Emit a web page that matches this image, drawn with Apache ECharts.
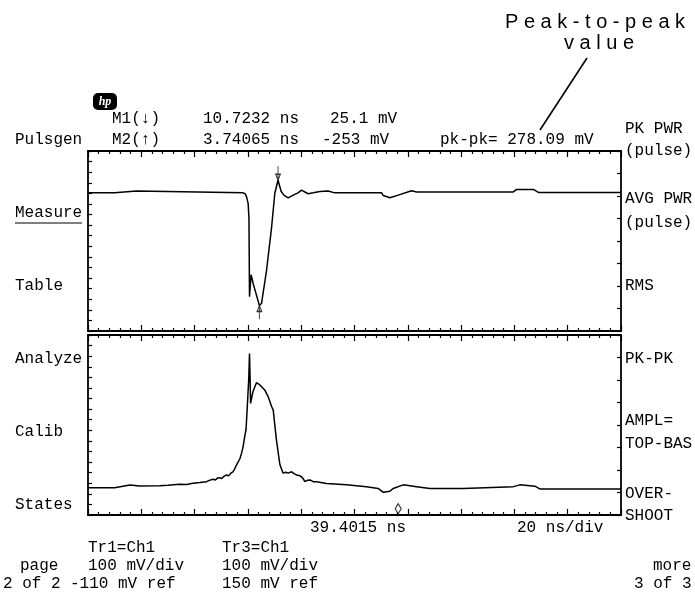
<!DOCTYPE html>
<html><head><meta charset="utf-8">
<script src="https://cdn.jsdelivr.net/npm/echarts@6/dist/echarts.min.js"></script>
<style>html,body{margin:0;padding:0;background:#fff}#c{width:695px;height:605px}</style>
</head><body><div id="c"></div>
<script>
// Time measured from the left edge of the screen (ns); 20 ns/div, 10 divisions
const topTime = [0,10.0,10.1,18.2,18.3,58.2,59.0,59.5,60.1,60.4,60.6,60.9,61.2,61.5,62.0,64.3,65.1,67.0,68.9,70.1,71.3,72.5,73.5,75.1,77.0,78.8,80.1,80.5,82.6,84.5,87.0,90.1,92.6,110.2,110.8,113.3,116.4,117.0,121.4,123.3,159.6,160.8,167.1,169.0,200];
const topMv   = [-3,-3,1,1,-3,-3,-5,-12,-27,-60,-234,-234,-185,-188,-205,-253,-249,-175,-79,-4,25.1,0,-8,-14,-8,-3,3,-1,-5,-3,0,1,-3,-3,-9,-14,-8,-5,1.5,-1,-1,4.7,4.7,-2,-2];
const botTime = [0,10.0,10.7,15.7,19.4,26.9,30,34.4,37,39.4,42,44.5,45.5,46.9,47.8,48.6,49.4,50.2,51,52.0,52.8,53.6,54.4,55.0,55.7,56.3,57.0,57.6,58.2,58.8,59.3,59.5,59.9,60.3,60.6,60.8,61.0,61.5,61.9,62.6,63.2,64.5,65.1,66.3,67.6,68.9,69.5,70.7,72.0,73.2,74.2,75.1,76.4,77.3,78.2,79.2,80.1,80.8,81.4,82.3,83.3,84.5,85.8,89.5,97.0,104.5,108.9,110.8,113.3,114.5,118.3,123.3,128.3,140.8,159.6,162.1,167.7,169.5,200];
const botMv   = [10.7,10.7,14.4,16.7,14.4,15.1,16,18.2,18,20.4,22,24,27,29.3,28,32,33,31,36,39,37,43,46,52,61,57,75,87,102,124,140,161,162,250,309,260,198,199,224,228,244,239,235,228,213,191,183,117,62,43,45,43,46,42,39,38,35,30,24,27,28,24,24,20,17,13,9,0.4,3,9,17,13,9,9,13,17,14,8,8];
// Markers: M1 (top of pulse), M2 (bottom of pulse)
const m1Time = 71.3, m1Mv = 25.1;
const m2Time = 64.3, m2Mv = -253;
// trigger diamond on lower trace grid
const trigTime = 116.4, trigMv = -36;

const chart = echarts.init(document.getElementById('c'), null, {renderer:'canvas'});
const K = '#000';
const FONT = '16px "Liberation Mono", "DejaVu Sans Mono", monospace';

function xAx(g, pos){
  return {gridIndex:g, type:'value', min:0, max:200, interval:20, position:pos,
    axisLine:{show:true, onZero:false, lineStyle:{color:K, width:1.8}},
    axisTick:{show:true, inside:true, length:6, lineStyle:{color:K, width:1.2}},
    minorTick:{show:true, splitNumber:5, length:3, lineStyle:{color:K, width:1.2}},
    axisLabel:{show:false}, splitLine:{show:false}, minorSplitLine:{show:false}};
}
function yAx(g, pos, min, max, interval){
  return {gridIndex:g, type:'value', min:min, max:max, interval:interval, position:pos,
    axisLine:{show:true, onZero:false, lineStyle:{color:K, width:1.8}},
    axisTick:{show:true, inside:true, length:4, lineStyle:{color:K, width:1.2}},
    axisLabel:{show:false}, splitLine:{show:false}};
}
function T(text, x, y, extra){
  return Object.assign({type:'text', x:x, y:y, silent:true,
    style:{text:text, font:FONT, fill:K, align:'left', verticalAlign:'middle'}}, extra||{});
}
function zip(a,b){ return a.map((v,i)=>[v,b[i]]); }

const graphics = [
  {type:'rect', shape:{x:93, y:93, width:24, height:17, r:5}, style:{fill:K}},
  {type:'text', x:105, y:101.5, style:{text:'hp', font:'italic bold 12px "Liberation Serif", serif', fill:'#fff', align:'center', verticalAlign:'middle'}},
  T('M1(\u2193)',112,119), T('10.7232 ns',203,119), T('25.1 mV',330,119),
  T('Pulsgen',15,140), T('M2(\u2191)',112,140), T('3.74065 ns',203,140), T('-253 mV',322,140),
  T('pk-pk= 278.09 mV',440,140),
  T('PK PWR',625,129), T('(pulse)',625,151),
  T('Measure',15,213), {type:'line', shape:{x1:15,y1:223,x2:82,y2:223}, style:{stroke:K, lineWidth:1.2}},
  T('AVG PWR',625,199), T('(pulse)',625,223),
  T('Table',15,286), T('RMS',625,286),
  T('Analyze',15,359), T('PK-PK',625,359),
  T('Calib',15,432), T('AMPL=',625,421), T('TOP-BAS',625,444),
  T('States',15,505), T('OVER-',625,494), T('SHOOT',625,516),
  T('39.4015 ns',310,528), T('20 ns/div',517,528),
  T('Tr1=Ch1',88,548), T('Tr3=Ch1',222,548),
  T('page',20,566), T('100 mV/div',88,566), T('100 mV/div',222,566), T('more',653,566),
  T('2 of 2',3,584), T('-110 mV ref',70,584), T('150 mV ref',222,584), T('3 of 3',634,584),
  {type:'text', x:505, y:22, style:{text:'P e a k - t o - p e a k', font:'20px "Liberation Sans", Arial, sans-serif', fill:K, align:'left', verticalAlign:'middle'}},
  {type:'text', x:564, y:43, style:{text:'v a l u e', font:'20px "Liberation Sans", Arial, sans-serif', fill:K, align:'left', verticalAlign:'middle'}},
  {type:'line', shape:{x1:540,y1:130,x2:587,y2:58}, style:{stroke:K, lineWidth:1.6}}
];

const lineStyle = {color:K, width:1.5};
chart.setOption({
  animation:false,
  backgroundColor:'#fff',
  grid:[
    {left:88, top:151, width:533, height:180},
    {left:88, top:335, width:533, height:180}
  ],
  xAxis:[xAx(0,'bottom'), xAx(0,'top'), xAx(1,'bottom'), xAx(1,'top')],
  yAxis:[
    yAx(0,'left',0,17,1), yAx(0,'right',-310,90,50),
    yAx(1,'left',0,17,1), yAx(1,'right',-50,350,50)
  ],
  series:[
    {type:'line', xAxisIndex:0, yAxisIndex:1, data:zip(topTime,topMv), showSymbol:false, lineStyle:lineStyle, silent:true},
    {type:'line', xAxisIndex:2, yAxisIndex:3, data:zip(botTime,botMv), showSymbol:false, lineStyle:lineStyle, silent:true},
    {type:'scatter', xAxisIndex:0, yAxisIndex:1, data:[[m1Time,m1Mv]],
      symbol:'path://M4,0 L4,14 M0,8 L8,8 L4,14 Z', symbolSize:[8,14], symbolOffset:[0,-7], symbolKeepAspect:true,
      itemStyle:{color:'rgba(0,0,0,0)', borderColor:K, borderWidth:1.2}, silent:true},
    {type:'scatter', xAxisIndex:0, yAxisIndex:1, data:[[m2Time,m2Mv]],
      symbol:'path://M4,14 L4,0 M0,6 L8,6 L4,0 Z', symbolSize:[8,14], symbolOffset:[0,7], symbolKeepAspect:true,
      itemStyle:{color:'rgba(0,0,0,0)', borderColor:K, borderWidth:1.2}, silent:true},
    {type:'scatter', xAxisIndex:2, yAxisIndex:3, data:[[trigTime,trigMv]],
      symbol:'diamond', symbolSize:[6,10],
      itemStyle:{color:'#fff', borderColor:K, borderWidth:1.2}, silent:true}
  ],
  graphic:graphics
});
</script></body></html>
